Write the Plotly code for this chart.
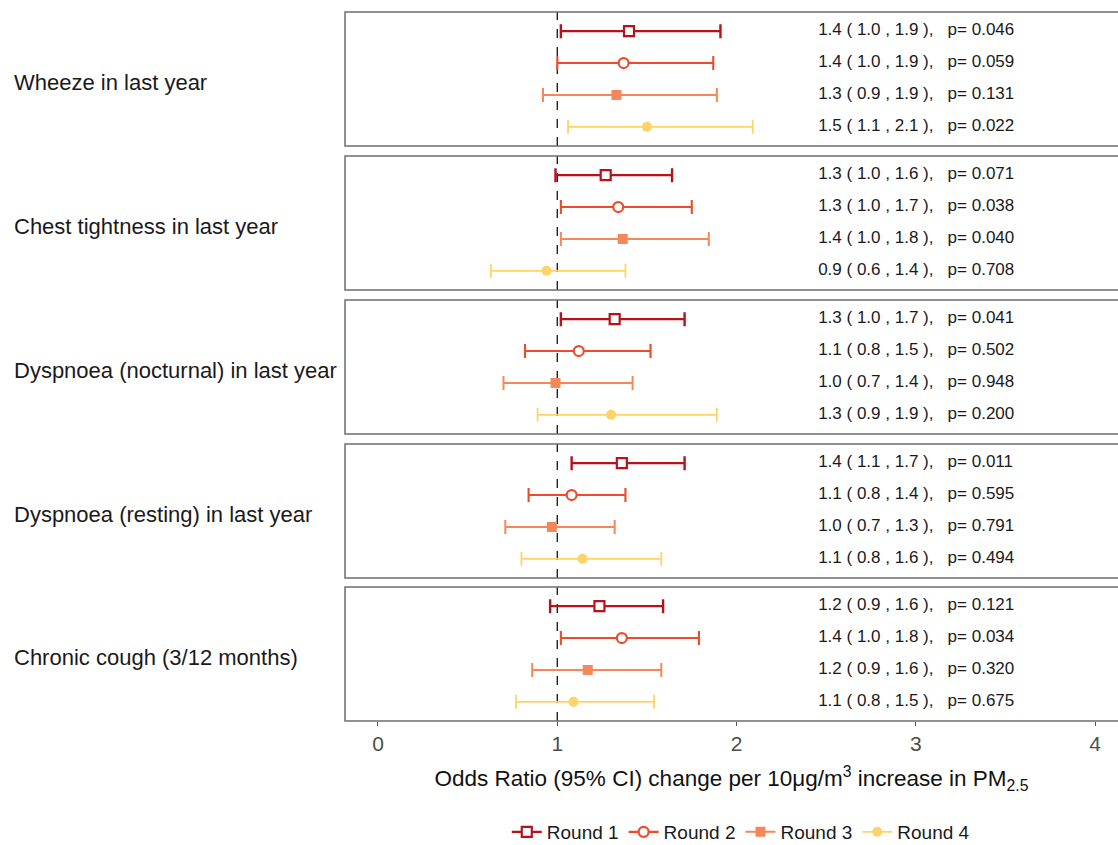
import plotly.graph_objects as go

outcomes = ["Wheeze in last year", "Chest tightness in last year",
            "Dyspnoea (nocturnal) in last year", "Dyspnoea (resting) in last year",
            "Chronic cough (3/12 months)"]
rounds = ["Round 1", "Round 2", "Round 3", "Round 4"]

# odds ratio, lower CI, upper CI per outcome (rows: Round 1..4)
or_est = [[1.40, 1.37, 1.33, 1.50],
          [1.27, 1.34, 1.365, 0.94],
          [1.32, 1.12, 0.99, 1.30],
          [1.36, 1.08, 0.97, 1.14],
          [1.235, 1.36, 1.17, 1.09]]
or_lo = [[1.02, 1.00, 0.92, 1.06],
         [0.99, 1.02, 1.02, 0.63],
         [1.02, 0.82, 0.70, 0.89],
         [1.08, 0.84, 0.71, 0.80],
         [0.96, 1.02, 0.86, 0.77]]
or_hi = [[1.91, 1.87, 1.89, 2.09],
         [1.64, 1.75, 1.845, 1.38],
         [1.71, 1.52, 1.42, 1.89],
         [1.71, 1.38, 1.32, 1.58],
         [1.59, 1.79, 1.58, 1.54]]
labels = [["1.4 ( 1.0 , 1.9 ),   p= 0.046", "1.4 ( 1.0 , 1.9 ),   p= 0.059",
           "1.3 ( 0.9 , 1.9 ),   p= 0.131", "1.5 ( 1.1 , 2.1 ),   p= 0.022"],
          ["1.3 ( 1.0 , 1.6 ),   p= 0.071", "1.3 ( 1.0 , 1.7 ),   p= 0.038",
           "1.4 ( 1.0 , 1.8 ),   p= 0.040", "0.9 ( 0.6 , 1.4 ),   p= 0.708"],
          ["1.3 ( 1.0 , 1.7 ),   p= 0.041", "1.1 ( 0.8 , 1.5 ),   p= 0.502",
           "1.0 ( 0.7 , 1.4 ),   p= 0.948", "1.3 ( 0.9 , 1.9 ),   p= 0.200"],
          ["1.4 ( 1.1 , 1.7 ),   p= 0.011", "1.1 ( 0.8 , 1.4 ),   p= 0.595",
           "1.0 ( 0.7 , 1.3 ),   p= 0.791", "1.1 ( 0.8 , 1.6 ),   p= 0.494"],
          ["1.2 ( 0.9 , 1.6 ),   p= 0.121", "1.4 ( 1.0 , 1.8 ),   p= 0.034",
           "1.2 ( 0.9 , 1.6 ),   p= 0.320", "1.1 ( 0.8 , 1.5 ),   p= 0.675"]]
x_ticks = [0, 1, 2, 3, 4]

colors = ["#B5121B", "#EE4B2B", "#F5875A", "#FDD46A"]
symbols = ["square", "circle", "square", "circle"]
fills = ["white", "white", colors[2], colors[3]]
lw = [2.4, 2.1, 2.0, 1.8]

FONT = "Liberation Sans, Arial, sans-serif"
W, H = 1118, 845
L = 345
TOP, BOT = 12, 721
panels_px = [(12, 146), (156, 290), (300, 434), (444, 578), (587, 721)]

def py(px):
    return (BOT - px) / (BOT - TOP)

fig = go.Figure()
layout_extra = {}
shapes = []
annotations = []
for p, name in enumerate(outcomes):
    yname = "y" if p == 0 else f"y{p+1}"
    axkey = "yaxis" if p == 0 else f"yaxis{p+1}"
    t, b = panels_px[p]
    layout_extra[axkey] = dict(domain=[py(b), py(t)], range=[0.4, 4.6],
                               showticklabels=False, showgrid=False, zeroline=False,
                               ticks="", anchor="x", fixedrange=True)
    for r in range(4):
        ypos = 4 - r
        fig.add_trace(go.Scatter(
            x=[or_est[p][r]], y=[ypos], mode="lines+markers", yaxis=yname,
            name=rounds[r], legendgroup=rounds[r], showlegend=(p == 0),
            line=dict(color=colors[r], width=lw[r]),
            marker=dict(symbol=symbols[r], size=10, color=fills[r],
                        line=dict(color=colors[r], width=2.2 if r < 2 else 0)),
            error_x=dict(type="data", symmetric=False,
                         array=[or_hi[p][r] - or_est[p][r]],
                         arrayminus=[or_est[p][r] - or_lo[p][r]],
                         color=colors[r], thickness=lw[r], width=7),
            hoverinfo="x+name"))
    fig.add_trace(go.Scatter(
        x=[2.455] * 4, y=[4, 3, 2, 1], mode="text", text=labels[p], yaxis=yname,
        textposition="middle right", showlegend=False,
        textfont=dict(family=FONT, size=17, color="#1a1a1a"), hoverinfo="skip"))
    # panel border (right side runs off the figure)
    shapes.append(dict(type="rect", xref="paper", yref="paper", x0=0, x1=1.05,
                       y0=py(b), y1=py(t), line=dict(color="#6e6e6e", width=1.5),
                       fillcolor="rgba(0,0,0,0)", layer="above"))
    # reference line at OR = 1
    shapes.append(dict(type="line", xref="x", yref=f"{yname} domain", x0=1, x1=1,
                       y0=0, y1=1, line=dict(color="#222222", width=1.4, dash="dash"),
                       layer="below"))
    annotations.append(dict(text=name, xref="paper", yref="paper",
                            x=(12 - L) / (W - L), y=(py(b) + py(t)) / 2, yshift=-3,
                            xanchor="left", yanchor="middle", showarrow=False,
                            font=dict(family=FONT, size=22, color="#1a1a1a")))

fig.update_layout(
    width=W, height=H,
    margin=dict(l=L, r=0, t=TOP, b=H - BOT, pad=0, autoexpand=False),
    paper_bgcolor="white", plot_bgcolor="white",
    font=dict(family=FONT, color="#1a1a1a"),
    xaxis=dict(range=[-0.184, -0.184 + (W - L) / 179.3], tickvals=x_ticks,
               ticks="outside", ticklen=4, tickcolor="#555555", tickwidth=1,
               ticklabelstandoff=0, automargin=False,
               tickfont=dict(family=FONT, size=21, color="#4d4d4d"),
               showgrid=False, zeroline=False, showline=False, anchor="y5",
               title=dict(text="Odds Ratio (95% CI) change per 10μg/m<sup>3</sup> increase in PM<sub>2.5</sub>",
                          font=dict(family=FONT, size=22.5, color="#111111"), standoff=16),
               fixedrange=True),
    legend=dict(orientation="h", x=0.512, xanchor="center", y=py(832), yanchor="middle",
                font=dict(family=FONT, size=19, color="#1a1a1a"),
                itemwidth=30, bgcolor="rgba(0,0,0,0)"),
    shapes=shapes, annotations=annotations,
    **layout_extra,
)
fig.write_html("out.html", config={"displayModeBar": False},
               post_script="document.body.style.margin='0';document.body.style.overflow='hidden';")
